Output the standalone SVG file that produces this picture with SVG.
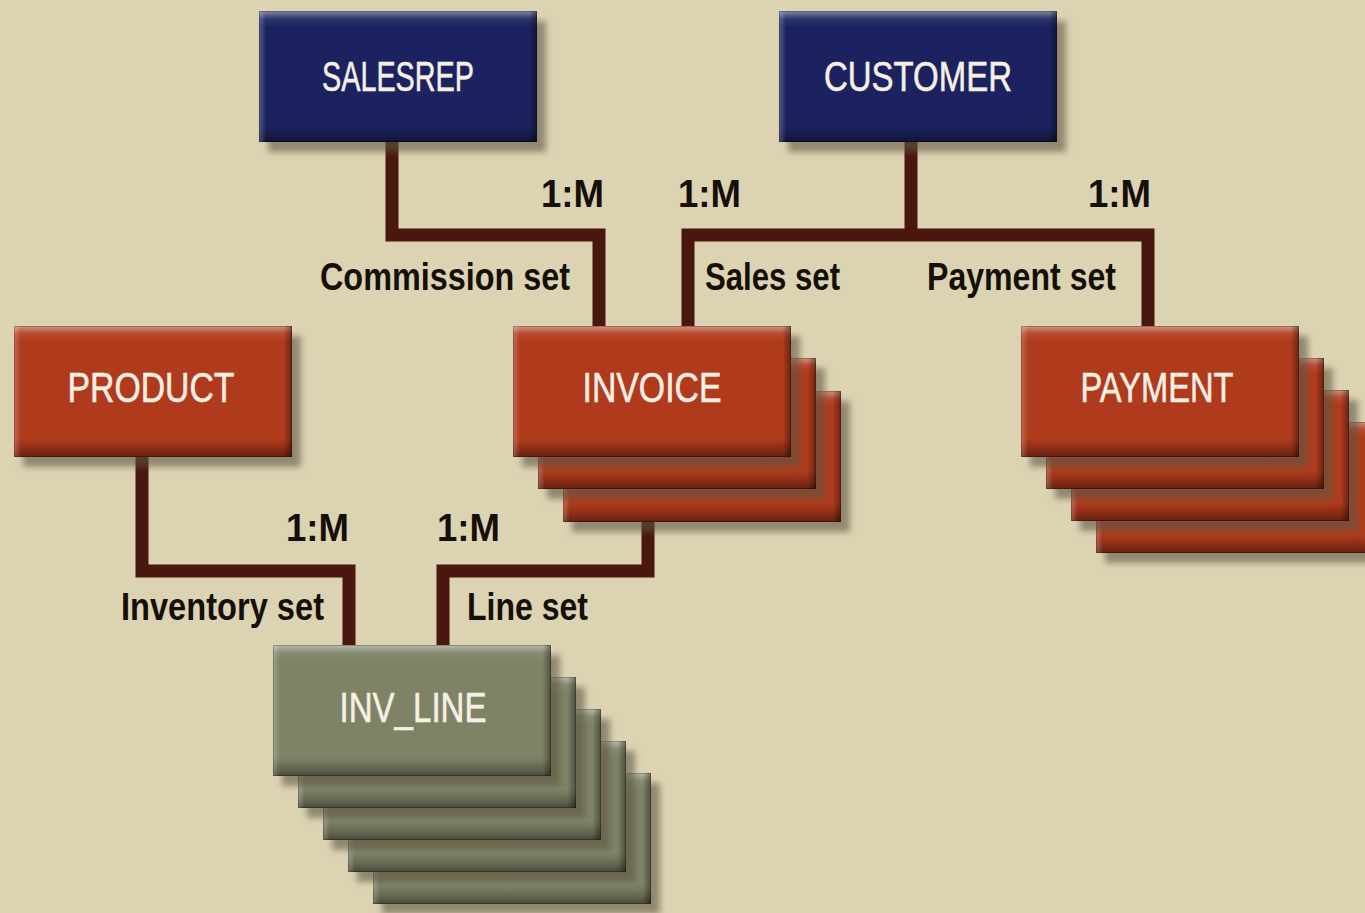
<svg xmlns="http://www.w3.org/2000/svg" width="1365" height="913" viewBox="0 0 1365 913">
  <defs>
    <filter id="shadow" x="-10%" y="-10%" width="130%" height="140%">
      <feGaussianBlur in="SourceAlpha" stdDeviation="3"/>
      <feOffset dx="9" dy="10" result="b"/>
      <feFlood flood-color="#5e5643" flood-opacity="0.6"/>
      <feComposite in2="b" operator="in" result="s"/>
      <feMerge><feMergeNode in="s"/><feMergeNode in="SourceGraphic"/></feMerge>
    </filter>
    <linearGradient id="bevV" x1="0" y1="0" x2="0" y2="1">
      <stop offset="0" stop-color="#fff" stop-opacity="0.45"/>
      <stop offset="0.06" stop-color="#fff" stop-opacity="0.08"/>
      <stop offset="0.12" stop-color="#fff" stop-opacity="0"/>
      <stop offset="0.86" stop-color="#000" stop-opacity="0"/>
      <stop offset="0.95" stop-color="#000" stop-opacity="0.25"/>
      <stop offset="1" stop-color="#000" stop-opacity="0.45"/>
    </linearGradient>
    <linearGradient id="bevH" x1="0" y1="0" x2="1" y2="0">
      <stop offset="0" stop-color="#fff" stop-opacity="0.25"/>
      <stop offset="0.025" stop-color="#fff" stop-opacity="0"/>
      <stop offset="0.97" stop-color="#000" stop-opacity="0"/>
      <stop offset="1" stop-color="#000" stop-opacity="0.4"/>
    </linearGradient>
    <g id="bevel">
      <rect width="278" height="131" fill="url(#bevV)"/>
      <rect width="278" height="131" fill="url(#bevH)"/>
      <rect x="0.5" y="0.5" width="277" height="130" fill="none" stroke="#000" stroke-opacity="0.25" stroke-width="1"/>
    </g>
  </defs>
  <style>
    .navy { fill: #1c2460; }
    .red { fill: #b03a1c; }
    .olive { fill: #7e8366; }
    .box { filter: url(#shadow); }
    .conn { fill: none; stroke: #4a170e; stroke-width: 13; stroke-linejoin: miter; }
    .name { font-family: "Liberation Sans Narrow", "Liberation Sans", Arial, sans-serif; font-size: 43px; fill: #f6efe4; stroke: #f6efe4; stroke-width: 0.6; text-anchor: middle; }
    .lbl { font-family: "Liberation Sans Narrow", "Liberation Sans", Arial, sans-serif; font-size: 39px; font-weight: bold; fill: #141008; }
  </style>
  <rect width="1365" height="913" fill="#dcd3b3"/>

  <g id="connectors">
    <path class="conn" d="M392 142 V235 H599 V326"/>
    <path class="conn" d="M911 142 V235"/>
    <path class="conn" d="M688 326 V235 H1148 V326"/>
    <path class="conn" d="M142 456 V571 H349 V645"/>
    <path class="conn" d="M648 521 V571 H443 V645"/>
    <text class="lbl" x="541" y="207" textLength="63" lengthAdjust="spacingAndGlyphs">1:M</text>
    <text class="lbl" x="678" y="207" textLength="63" lengthAdjust="spacingAndGlyphs">1:M</text>
    <text class="lbl" x="1088" y="207" textLength="63" lengthAdjust="spacingAndGlyphs">1:M</text>
    <text class="lbl" x="320" y="290" textLength="250" lengthAdjust="spacingAndGlyphs">Commission set</text>
    <text class="lbl" x="705" y="290" textLength="135" lengthAdjust="spacingAndGlyphs">Sales set</text>
    <text class="lbl" x="927" y="290" textLength="189" lengthAdjust="spacingAndGlyphs">Payment set</text>
    <text class="lbl" x="286" y="541" textLength="63" lengthAdjust="spacingAndGlyphs">1:M</text>
    <text class="lbl" x="437" y="541" textLength="63" lengthAdjust="spacingAndGlyphs">1:M</text>
    <text class="lbl" x="121" y="620" textLength="203" lengthAdjust="spacingAndGlyphs">Inventory set</text>
    <text class="lbl" x="467" y="620" textLength="121" lengthAdjust="spacingAndGlyphs">Line set</text>
  </g>

  <g id="node-salesrep">
    <g class="box" transform="translate(259,11)"><rect class="navy" width="278" height="131"/><use href="#bevel"/></g>
    <text class="name" x="398" y="91" textLength="152" lengthAdjust="spacingAndGlyphs">SALESREP</text>
  </g>

  <g id="node-customer">
    <g class="box" transform="translate(779,11)"><rect class="navy" width="278" height="131"/><use href="#bevel"/></g>
    <text class="name" x="918" y="91" textLength="188" lengthAdjust="spacingAndGlyphs">CUSTOMER</text>
  </g>

  <g id="node-product">
    <g class="box" transform="translate(14,326)"><rect class="red" width="278" height="131"/><use href="#bevel"/></g>
    <text class="name" x="151" y="402" textLength="167" lengthAdjust="spacingAndGlyphs">PRODUCT</text>
  </g>

  <g id="node-invoice">
    <g class="box" transform="translate(563,391)"><rect class="red" width="278" height="131"/><use href="#bevel"/></g>
    <g class="box" transform="translate(538,358)"><rect class="red" width="278" height="131"/><use href="#bevel"/></g>
    <g class="box" transform="translate(513,326)"><rect class="red" width="278" height="131"/><use href="#bevel"/></g>
    <text class="name" x="652" y="402" textLength="139" lengthAdjust="spacingAndGlyphs">INVOICE</text>
  </g>

  <g id="node-payment">
    <g class="box" transform="translate(1096,422)"><rect class="red" width="278" height="131"/><use href="#bevel"/></g>
    <g class="box" transform="translate(1071,390)"><rect class="red" width="278" height="131"/><use href="#bevel"/></g>
    <g class="box" transform="translate(1046,358)"><rect class="red" width="278" height="131"/><use href="#bevel"/></g>
    <g class="box" transform="translate(1021,326)"><rect class="red" width="278" height="131"/><use href="#bevel"/></g>
    <text class="name" x="1157" y="402" textLength="153" lengthAdjust="spacingAndGlyphs">PAYMENT</text>
  </g>

  <g id="node-inv-line">
    <g class="box" transform="translate(373,773)"><rect class="olive" width="278" height="131"/><use href="#bevel"/></g>
    <g class="box" transform="translate(348,741)"><rect class="olive" width="278" height="131"/><use href="#bevel"/></g>
    <g class="box" transform="translate(323,709)"><rect class="olive" width="278" height="131"/><use href="#bevel"/></g>
    <g class="box" transform="translate(298,677)"><rect class="olive" width="278" height="131"/><use href="#bevel"/></g>
    <g class="box" transform="translate(273,645)"><rect class="olive" width="278" height="131"/><use href="#bevel"/></g>
    <text class="name" x="413" y="722" textLength="147" lengthAdjust="spacingAndGlyphs">INV_LINE</text>
  </g>
</svg>
